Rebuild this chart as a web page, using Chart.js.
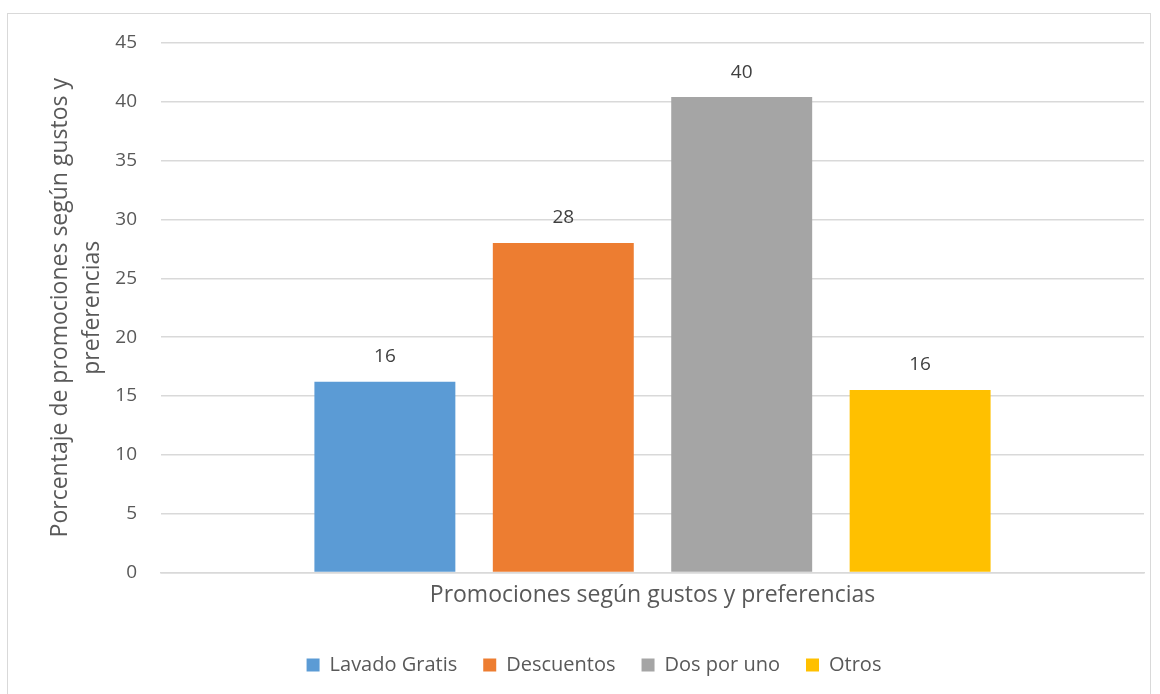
<!DOCTYPE html>
<html>
<head>
<meta charset="utf-8">
<script src="https://cdn.jsdelivr.net/npm/chart.js"></script>
<style>
  html, body { margin: 0; padding: 0; background: #fff; }
  #frame { position: absolute; left: 7px; top: 13px; width: 1144px; height: 700px; border: 1px solid #d9d9d9; box-sizing: border-box; }
  #wrap { position: absolute; left: 0; top: 0; width: 1160px; height: 694px; }
</style>
</head>
<body>
<div id="frame"></div>
<div id="wrap"><canvas id="promo"></canvas></div>
<script>
// categoria unica, una serie por promocion
const categories = ['Promociones según gustos y preferencias'];
const seriesNames = ['Lavado Gratis', 'Descuentos', 'Dos por uno', 'Otros'];
const seriesValues = [16.2, 28, 40.4, 15.5];
const seriesColors = ['#5b9bd5', '#ed7d31', '#a5a5a5', '#ffc000'];
const yTicks = [0, 5, 10, 15, 20, 25, 30, 35, 40, 45];

const fontFam = '"Open Sans", sans-serif';
const textCol = '#595959';
const padLeft = 44;

// etiquetas de valor encima de cada barra
const valueLabels = {
  id: 'valueLabels',
  afterDatasetsDraw(chart) {
    const ctx = chart.ctx;
    ctx.save();
    ctx.font = '19px ' + fontFam;
    ctx.fillStyle = '#404040';
    ctx.textAlign = 'center';
    ctx.textBaseline = 'middle';
    chart.data.datasets.forEach((ds, i) => {
      const meta = chart.getDatasetMeta(i);
      meta.data.forEach((bar, j) => {
        ctx.fillText(Math.round(ds.data[j]).toString(), bar.x, bar.y - 25);
      });
    });
    ctx.restore();
  }
};

new Chart(document.getElementById('promo'), {
  type: 'bar',
  data: {
    labels: categories,
    datasets: seriesNames.map((name, i) => ({
      label: name,
      data: [seriesValues[i]],
      backgroundColor: seriesColors[i],
      barPercentage: 0.79,
      categoryPercentage: 0.726
    }))
  },
  options: {
    responsive: true,
    maintainAspectRatio: false,
    animation: false,
    layout: { padding: { top: 43, right: 16, bottom: 9, left: padLeft } },
    plugins: {
      tooltip: { enabled: false },
      legend: {
        position: 'bottom',
        labels: {
          boxWidth: 13,
          boxHeight: 13,
          padding: 26,
          color: textCol,
          font: { family: fontFam, size: 20 }
        }
      }
    },
    scales: {
      x: {
        grid: { display: false, drawTicks: false },
        border: { color: '#d9d9d9', width: 1.5 },
        ticks: { color: textCol, font: { family: fontFam, size: 23 }, padding: 9 },
        afterFit(axis) { axis.height += 11; }
      },
      y: {
        min: 0,
        max: 45,
        afterBuildTicks(axis) { axis.ticks = yTicks.map(v => ({ value: v })); },
        afterFit(axis) { axis.width = 161 - padLeft; },
        grid: { color: '#d9d9d9', lineWidth: 1.5, drawTicks: false },
        border: { display: false },
        ticks: { color: textCol, font: { family: fontFam, size: 19 }, padding: 24 },
        title: {
          display: true,
          text: ['Porcentaje de promociones según gustos y', 'preferencias'],
          color: textCol,
          font: { family: fontFam, size: 23, lineHeight: 1.4 },
          padding: { top: 0, bottom: 0 }
        }
      }
    }
  },
  plugins: [valueLabels]
});
</script>
</body>
</html>
